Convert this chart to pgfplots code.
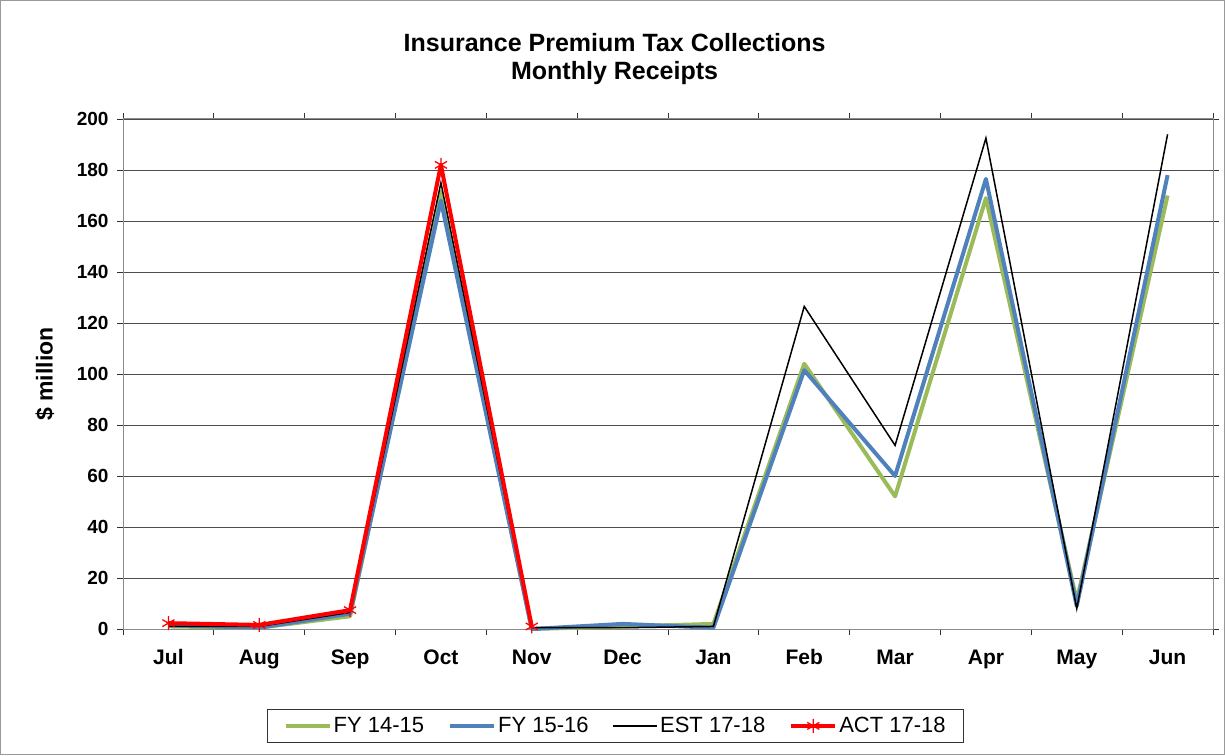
\documentclass[border=0pt]{standalone}
\usepackage{pgfplots}
\pgfplotsset{compat=1.18}
\usepackage{fontspec}
\setmainfont{Liberation Sans}
\definecolor{fygreen}{HTML}{9BBB59}
\definecolor{fyblue}{HTML}{4F81BD}
\begin{document}
\begin{tikzpicture}[x=1pt,y=1pt]
\draw[gray!80, line width=1pt] (0.5,0.5) rectangle (1224.5,754.5);
\begin{axis}[
  at={(123pt,126pt)}, anchor=south west,
  scale only axis, width=1090pt, height=510pt,
  xmin=-0.5, xmax=11.5, ymin=0, ymax=200,
  xtick={-0.5,0.5,...,11.5}, xticklabel=\empty,
  extra x ticks={0,1,2,3,4,5,6,7,8,9,10,11},
  extra x tick labels={Jul,Aug,Sep,Oct,Nov,Dec,Jan,Feb,Mar,Apr,May,Jun},
  extra x tick style={major tick length=0pt, grid=none},
  ytick={0,20,...,200},
  tick align=outside, major tick length=6pt,
  tick style={black!80, line width=0.8pt},
  ymajorgrids, grid style={black!70, line width=0.9pt},
  axis line style={gray!90, line width=1pt},
  /pgf/number format/assume math mode=true,
  xticklabel style={font=\fontsize{21}{24}\selectfont\bfseries, text height=15pt, text depth=4pt, yshift=-17pt},
  yticklabel style={font=\fontsize{19}{22}\selectfont\bfseries, xshift=-5pt},
  ylabel={\$ million},
  every axis y label/.style={at={(axis description cs:-0.0716,0.5)}, rotate=90, anchor=center,
    font=\fontsize{23}{26}\selectfont\bfseries},
  title={Insurance Premium Tax Collections\\Monthly Receipts},
  every axis title/.style={at={(axis description cs:0.451,1.1176)}, anchor=center,
    font=\fontsize{25}{28}\selectfont\bfseries, align=center},
  legend columns=4,
  legend style={at={(0.452,-0.19)}, anchor=center, draw=black!80, line width=1pt,
    font=\fontsize{22}{24}\selectfont, inner xsep=16pt, inner ysep=6pt,
    /tikz/every even column/.append style={column sep=22pt}},
  legend image code/.code={\draw[mark repeat=2,mark phase=2,#1] plot coordinates {(0pt,0pt) (22pt,0pt) (44pt,0pt)};},
  clip=false,
]
\addplot[fygreen, line width=4pt, line join=round] coordinates {
(0,1) (1,0.5) (2,5) (3,171.5) (4,0) (5,1) (6,2) (7,104) (8,52) (9,169) (10,11) (11,170)};
\addlegendentry{FY 14-15}
\addplot[fyblue, line width=4pt, line join=round] coordinates {
(0,1.5) (1,0.5) (2,6) (3,168) (4,0) (5,2) (6,0.5) (7,101.5) (8,60) (9,176.5) (10,9) (11,178)};
\addlegendentry{FY 15-16}
\addplot[black, line width=1.5pt] coordinates {
(0,1) (1,1) (2,6.5) (3,175) (4,0.5) (5,0.5) (6,1) (7,126.5) (8,72) (9,192.5) (10,8) (11,194)};
\addlegendentry{EST 17-18}
\addplot[red, line width=4pt, line join=round, mark=asterisk, mark size=7pt, mark options={line width=1.3pt}] coordinates {
(0,2.3) (1,1.6) (2,7.4) (3,182) (4,1)};
\addlegendentry{ACT 17-18}
\end{axis}
\end{tikzpicture}
\end{document}
